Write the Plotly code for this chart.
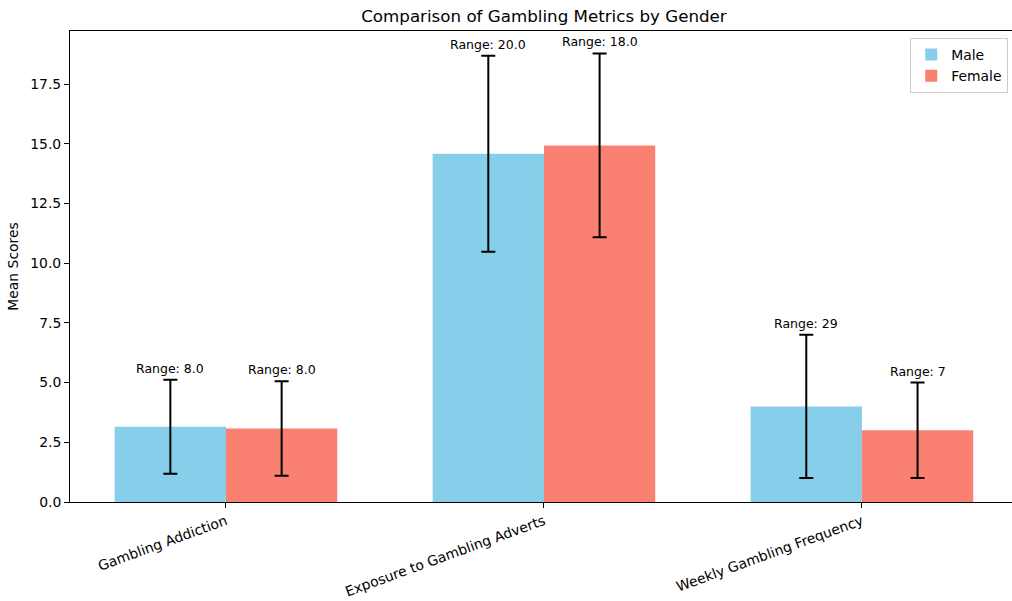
import plotly.graph_objects as go

categories = ["Gambling Addiction", "Exposure to Gambling Adverts", "Weekly Gambling Frequency"]
male_mean = [3.15, 14.58, 4.0]
male_std = [1.97, 4.10, 3.0]
female_mean = [3.08, 14.93, 3.0]
female_std = [1.98, 3.85, 2.0]
male_range = ["8.0", "20.0", "29"]
female_range = ["8.0", "18.0", "7"]

width = 0.35
pos = list(range(len(categories)))
male_x = [p - width / 2 for p in pos]
female_x = [p + width / 2 for p in pos]

FONT = "DejaVu Sans"

fig = go.Figure()
fig.add_trace(go.Bar(
    x=male_x, y=male_mean, width=width, name="Male",
    marker=dict(color="#87CEEB", line=dict(width=0)),
    error_y=dict(type="data", array=male_std, visible=True, color="black", thickness=2, width=7),
))
fig.add_trace(go.Bar(
    x=female_x, y=female_mean, width=width, name="Female",
    marker=dict(color="#FA8072", line=dict(width=0)),
    error_y=dict(type="data", array=female_std, visible=True, color="black", thickness=2, width=7),
))

annotations = []
for xs, ms, ss, rs in [(male_x, male_mean, male_std, male_range), (female_x, female_mean, female_std, female_range)]:
    for x, m, s, r in zip(xs, ms, ss, rs):
        annotations.append(dict(
            x=x, y=m + s, xref="x", yref="y", text=f"Range: {r}", showarrow=False,
            yanchor="bottom", xanchor="center", yshift=2,
            font=dict(family=FONT, size=12.5, color="black"),
        ))

fig.update_layout(
    width=1012, height=601,
    margin=dict(l=70, r=0, t=31, b=99, autoexpand=False),
    plot_bgcolor="white", paper_bgcolor="white",
    barmode="overlay",
    font=dict(family=FONT, size=13.9, color="black"),
    title=dict(text="Comparison of Gambling Metrics by Gender", x=0.5375, xanchor="center",
               y=0.973, yanchor="middle", font=dict(family=FONT, size=16.7, color="black")),
    annotations=annotations,
    legend=dict(x=0.996, y=0.985, xanchor="right", yanchor="top",
                bordercolor="#cccccc", borderwidth=1, bgcolor="white",
                font=dict(family=FONT, size=13.9)),
    xaxis=dict(
        range=[-0.4906, 2.472], tickmode="array", tickvals=pos, ticktext=categories,
        tickangle=-20, showline=True, linecolor="black", linewidth=1, mirror=True,
        ticks="outside", ticklen=5, tickcolor="black", showgrid=False, zeroline=False,
        automargin=False,
    ),
    yaxis=dict(
        range=[0, 19.72], tickvals=[0, 2.5, 5, 7.5, 10, 12.5, 15, 17.5], tickformat=".1f",
        showline=True, linecolor="black", linewidth=1, ticks="outside", ticklen=5,
        tickcolor="black", showgrid=False, zeroline=False, automargin=False,
        title=dict(text="Mean Scores", font=dict(family=FONT, size=13.9), standoff=8),
    ),
)

fig.write_html("out.html", config={"displayModeBar": False},
               post_script="document.body.style.margin='0';document.body.style.overflow='hidden';")
